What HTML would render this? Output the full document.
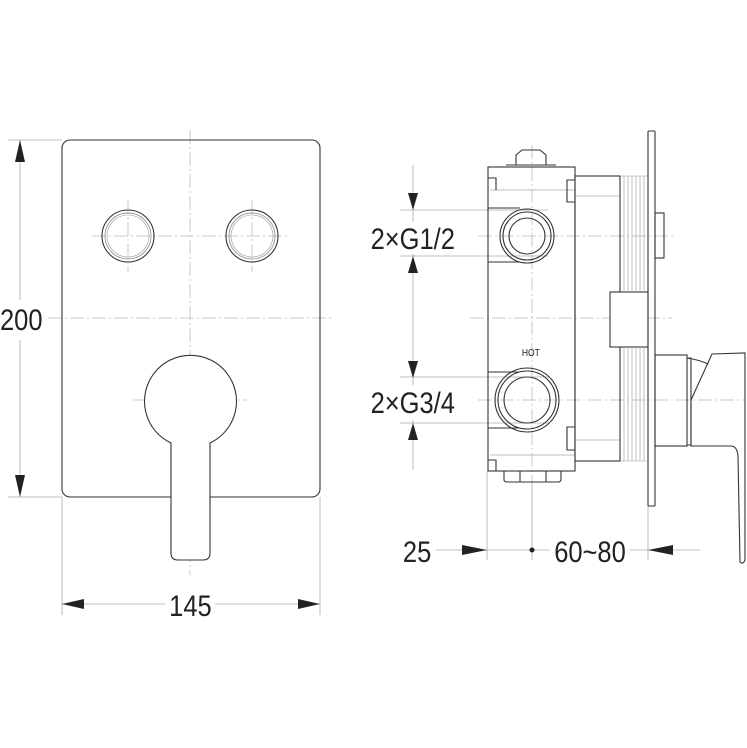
<!DOCTYPE html>
<html><head><style>body{margin:0;background:#fff}svg{display:block}</style></head><body>
<svg width="747" height="748" viewBox="0 0 747 748" xmlns="http://www.w3.org/2000/svg" font-family="Liberation Sans, sans-serif">
<g fill="none" stroke="#bbb" stroke-width="0.8" stroke-dasharray="14 3 2 3">
<line x1="190" y1="130" x2="190" y2="575"/>
<line x1="48" y1="318" x2="333" y2="318"/>
<line x1="92" y1="236" x2="288" y2="236"/>
<line x1="128" y1="200" x2="128" y2="272"/>
<line x1="252" y1="200" x2="252" y2="272"/>
<line x1="133" y1="400" x2="247" y2="400"/>
<line x1="478" y1="236" x2="675" y2="236"/>
<line x1="478" y1="400" x2="745" y2="400"/>
<line x1="470" y1="318" x2="672" y2="318"/>
<line x1="532" y1="145" x2="532" y2="480"/>
</g>
<g fill="none" stroke="#aaa" stroke-width="0.8">
<line x1="8" y1="140" x2="62" y2="140"/><line x1="8" y1="497" x2="62" y2="497"/>
<line x1="62" y1="497" x2="62" y2="615"/><line x1="320" y1="497" x2="320" y2="615"/>
<line x1="20" y1="140" x2="20" y2="300"/><line x1="20" y1="340" x2="20" y2="497"/>
<line x1="62" y1="604" x2="165" y2="604"/><line x1="215" y1="604" x2="320" y2="604"/>
<line x1="413" y1="165" x2="413" y2="222"/><line x1="413" y1="254" x2="413" y2="385"/><line x1="413" y1="420" x2="413" y2="470"/>
<line x1="400" y1="210" x2="548" y2="210"/><line x1="400" y1="256" x2="548" y2="256"/>
<line x1="400" y1="377" x2="548" y2="377"/><line x1="400" y1="423" x2="548" y2="423"/>
<line x1="487" y1="471" x2="487" y2="560"/><line x1="532" y1="480" x2="532" y2="560"/><line x1="648" y1="506" x2="648" y2="560"/>
<line x1="436" y1="550" x2="487" y2="550"/><line x1="487" y1="550" x2="550" y2="550"/><line x1="630" y1="550" x2="700" y2="550"/>
<line x1="575" y1="196" x2="620" y2="196"/><line x1="575" y1="440" x2="620" y2="440"/>
<line x1="490" y1="190" x2="575" y2="190"/><line x1="490" y1="455" x2="575" y2="455"/>
</g>
<g fill="#222" stroke="none">
<polygon points="20,140 15,162 25,162"/><polygon points="20,497 15,475 25,475"/>
<polygon points="62,604 84,599 84,609"/><polygon points="320,604 298,599 298,609"/>
<polygon points="413,210 408,193 418,193"/><polygon points="413,256 408,273 418,273"/>
<polygon points="413,378 408,361 418,361"/><polygon points="413,423 408,440 418,440"/>
<polygon points="487,550 462,545 462,555"/><polygon points="648,550 673,545 673,555"/>
<circle cx="532" cy="550" r="2.5"/>
</g>
<g fill="none" stroke="#333" stroke-width="1.1">
<rect x="62" y="140" width="258" height="357" rx="8"/>
<circle cx="128" cy="236" r="26"/><circle cx="128" cy="236" r="23" stroke="#777" stroke-width="0.7"/><circle cx="128" cy="236" r="21" stroke="#999" stroke-width="0.6"/>
<circle cx="252" cy="236" r="26"/><circle cx="252" cy="236" r="23" stroke="#777" stroke-width="0.7"/><circle cx="252" cy="236" r="21" stroke="#999" stroke-width="0.6"/>
<path d="M171,443 A46,46 0 1 1 210,443 L210,553 Q210,560 203,560 L178,560 Q171,560 171,553 Z" fill="#fff"/>
<rect x="488" y="167" width="87" height="304"/>
<path d="M516,165 L516,155 L522,150 L540,150 L546,155 L546,165 M506,165 L556,165"/>
<path d="M504,471 L504,480 Q504,482 508,482 L558,482 Q561,482 561,479 L561,471 M520,471 L520,482 M546,471 L546,482"/>
<path d="M488,178 L496,178 L496,190 M488,460 L496,460 L496,471 M575,180 L567,180 L567,202 L575,202 M575,427 L567,427 L567,450 L575,450"/>
<path d="M488,208 L520,208 M488,262 L520,262 M488,372 L520,372 M488,428 L520,428"/>
<circle cx="527" cy="236" r="27"/><circle cx="527" cy="236" r="24"/><circle cx="527" cy="236" r="18"/>
<circle cx="527" cy="400" r="32"/><circle cx="527" cy="400" r="29"/><circle cx="527" cy="400" r="23"/>
<rect x="575" y="176" width="45" height="285"/>
<rect x="610" y="292" width="38" height="55" fill="#fff"/>
<rect x="648" y="131" width="7" height="375" rx="1"/>
<rect x="655" y="213" width="9" height="45"/>
<rect x="655" y="355" width="32" height="91"/>
<path d="M687,358 L691,358 L691,445 L687,445"/>
<path d="M687,358 Q700,360 708,364"/>
<path d="M691,400 L712,354 L745,353 L745,560 Q743,565 740,562 L738,456 Q737,446 731,446 L691,446 Z"/>
</g>
<g stroke="#999" stroke-width="0.6">
<line x1="624" y1="176" x2="624" y2="292"/><line x1="628" y1="176" x2="628" y2="292"/><line x1="632" y1="176" x2="632" y2="292"/><line x1="636" y1="176" x2="636" y2="292"/><line x1="640" y1="176" x2="640" y2="292"/><line x1="644" y1="176" x2="644" y2="292"/>
<line x1="624" y1="347" x2="624" y2="461"/><line x1="628" y1="347" x2="628" y2="461"/><line x1="632" y1="347" x2="632" y2="461"/><line x1="636" y1="347" x2="636" y2="461"/><line x1="640" y1="347" x2="640" y2="461"/><line x1="644" y1="347" x2="644" y2="461"/>
<line x1="620" y1="176" x2="648" y2="176"/><line x1="620" y1="461" x2="648" y2="461"/>
</g>
<g fill="#222" font-size="30" transform="scale(0.85,1)">
<text x="0" y="330">200</text>
<text x="199" y="616">145</text>
<text x="436" y="249">2×G1/2</text>
<text x="436" y="413">2×G3/4</text>
<text x="474" y="562">25</text>
<text x="652" y="562">60~80</text>
<text x="614" y="356" font-size="10">HOT</text>
</g>
</svg>
</body></html>
